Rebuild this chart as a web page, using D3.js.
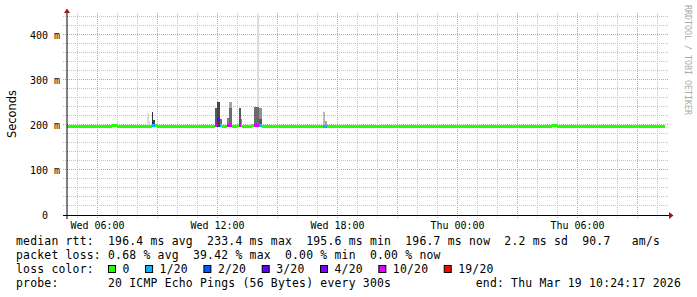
<!DOCTYPE html>
<html lang="en">
<head>
<meta charset="utf-8">
<title>median rtt</title>
<script src="https://cdn.jsdelivr.net/npm/d3@7/dist/d3.min.js"></script>
<style>
  body { margin: 0; background: #fff; }
  svg text { font-family: "DejaVu Sans Mono", monospace; fill: #000; }
  .grid .tick line { stroke-dasharray: 1,1; shape-rendering: crispEdges; }
  .grid.minor .tick line { stroke: #c4c4c4; }
  .grid.major .tick line { stroke: #ee8e8e; }
  .ticks text { font-family: "DejaVu Sans Mono", monospace; font-size: 10px; white-space: pre; }
  .unit { font-family: "DejaVu Sans", sans-serif; font-size: 11.4px; }
  .legend text { font-size: 11.4px; letter-spacing: 0.22px; white-space: pre; }
  .credit { font-size: 8.3px; fill: #aaa; }
  .data rect { shape-rendering: crispEdges; }
</style>
</head>
<body>
<script>
const parseTime = d3.timeParse("%Y-%m-%d %H:%M");

// time window of the graph and the last update
const startTime = "2026-03-18 04:30";
const endTime = "2026-03-19 10:30";
const lastUpdate = "2026-03-19 10:24";
const stepMinutes = 15;

// median rtt (ms), one value per 15 minutes from Wed 04:30
const medianRtt = [
  196.9, 196.2, 196.0, 196.4, 197.1, 196.8, 195.9, 196.3,
  196.6, 197.2, 196.1, 195.8, 196.4, 196.9, 196.3, 196.0,
  196.7, 197.3, 196.2, 195.9, 196.5, 196.1, 196.8, 196.4,
  196.0, 196.6, 197.0, 196.3, 195.8, 196.9, 197.6, 197.0,
  197.2, 196.8, 197.5, 196.5, 197.1, 197.4, 197.8, 196.9,
  196.2, 195.7, 196.3, 196.0, 196.6, 196.2, 195.9, 196.4,
  196.1, 196.7, 197.0, 196.3, 196.0, 196.5, 195.8, 196.2,
  196.6, 196.0, 195.7, 196.3, 196.9, 196.4, 196.1, 196.6,
  196.3, 195.9, 195.6, 195.8, 196.2, 196.0, 196.7, 196.3,
  196.5, 196.1, 196.4, 196.8, 195.8, 195.7, 196.0, 196.6,
  196.2, 196.9, 196.3, 195.9, 196.5, 196.1, 196.7, 196.4,
  196.0, 196.6, 196.2, 196.8, 196.3, 196.5, 196.0, 196.4,
  196.7, 198.0, 196.5, 196.1, 196.6, 196.9, 196.2, 196.0,
  196.4, 196.8, 196.1, 196.5, 197.0, 196.3, 195.9, 196.6,
  196.2, 196.7, 196.4, 196.0, 196.5, 196.9, 196.3, 196.7
];

// periods with packet loss: from, to, lost pings of 20, median rtt (ms)
const lossEvents = [
  ["2026-03-18 08:45", "2026-03-18 08:54", 1, 197.5],
  ["2026-03-18 11:54", "2026-03-18 12:00", 10, 197.5],
  ["2026-03-18 12:00", "2026-03-18 12:09", 3, 212.0],
  ["2026-03-18 12:09", "2026-03-18 12:13", 1, 197.8],
  ["2026-03-18 12:30", "2026-03-18 12:45", 10, 197.4],
  ["2026-03-18 13:07", "2026-03-18 13:12", 10, 197.6],
  ["2026-03-18 13:52", "2026-03-18 14:07", 10, 197.2],
  ["2026-03-18 14:07", "2026-03-18 14:15", 1, 197.5],
  ["2026-03-18 17:18", "2026-03-18 17:30", 1, 197.0]
];

// smoke: from, to, [rtt (ms), number of pings reaching it], highest first
const smokeColumns = [
  ["2026-03-18 08:30", "2026-03-18 08:35", [[227, 1]]],
  ["2026-03-18 08:35", "2026-03-18 08:39", [[209, 1]]],
  ["2026-03-18 08:45", "2026-03-18 08:48", [[229, 10]]],
  ["2026-03-18 08:48", "2026-03-18 08:54", [[211, 9]]],
  ["2026-03-18 11:54", "2026-03-18 12:00", [[238, 8]]],
  ["2026-03-18 12:00", "2026-03-18 12:09", [[252, 9]]],
  ["2026-03-18 12:09", "2026-03-18 12:16", [[214, 7]]],
  ["2026-03-18 12:30", "2026-03-18 12:36", [[216, 6]]],
  ["2026-03-18 12:36", "2026-03-18 12:45", [[252, 4], [238, 3]]],
  ["2026-03-18 13:07", "2026-03-18 13:12", [[238, 8]]],
  ["2026-03-18 13:12", "2026-03-18 13:15", [[213, 5]]],
  ["2026-03-18 13:52", "2026-03-18 14:00", [[240, 7]]],
  ["2026-03-18 14:00", "2026-03-18 14:07", [[444, 1], [240, 6]]],
  ["2026-03-18 14:07", "2026-03-18 14:15", [[238, 5], [213, 3]]],
  ["2026-03-18 17:18", "2026-03-18 17:25", [[229, 3]]],
  ["2026-03-18 17:25", "2026-03-18 17:30", [[209, 4]]],
  ["2026-03-18 20:00", "2026-03-18 20:04", [[211, 1]]]
];

const yLabelValues = [0, 100, 200, 300, 400];
const lossLabels = ["0", "1/20", "2/20", "3/20", "4/20", "10/20", "19/20"];
const lossSteps = [1, 2, 3, 4, 10, 19];
const lossColors = ["#26ff00", "#00b8ff", "#0059ff", "#5e00ff", "#7e00ff", "#dd00ff", "#ff0000"];

const legendLines = [
  "median rtt:  196.4 ms avg  233.4 ms max  195.6 ms min  196.7 ms now  2.2 ms sd  90.7   am/s",
  "packet loss: 0.68 % avg  39.42 % max  0.00 % min  0.00 % now",
  "loss color:",
  "probe:       20 ICMP Echo Pings (56 Bytes) every 300s"
];
const endLabel = "end: Thu Mar 19 10:24:17 2026";

const width = 697, height = 297;
const plotLeft = 67, plotRight = 667, plotBottom = 215, plotTop = 15;

const svg = d3.select("body").append("svg")
    .attr("width", width)
    .attr("height", height);

svg.append("rect").attr("width", width).attr("height", height).attr("fill", "#fff");

const x = d3.scaleTime()
    .domain([parseTime(startTime), parseTime(endTime)])
    .range([plotLeft, plotRight]);
const y = d3.scaleLinear()
    .domain([0, 400])
    .range([plotBottom, plotBottom - 180]);
const yTop = y.invert(plotTop);

const lossColor = d3.scaleThreshold().domain(lossSteps).range(lossColors);

// grid
const hours = d3.timeHour.every(1).range(x.domain()[0], x.domain()[1]);
const isMajorHour = d => d.getHours() % 3 === 0;
const gridLen = plotBottom + 3 - 13;
svg.append("g")
    .attr("class", "grid minor")
    .attr("transform", `translate(0,${plotBottom + 3})`)
    .call(d3.axisBottom(x).tickValues(hours.filter(d => !isMajorHour(d)))
        .tickSize(-gridLen).tickFormat(""))
    .call(g => g.select(".domain").remove());
svg.append("g")
    .attr("class", "grid major")
    .attr("transform", `translate(0,${plotBottom + 3})`)
    .call(d3.axisBottom(x).tickValues(hours.filter(isMajorHour))
        .tickSize(-gridLen).tickFormat(""))
    .call(g => g.select(".domain").remove());

const yMinor = d3.range(20, yTop, 20).filter(v => v % 100 !== 0);
const hGridLen = plotRight + 1 - plotLeft + 4;
svg.append("g")
    .attr("class", "grid minor")
    .attr("transform", `translate(${plotLeft - 4},-1)`)
    .call(d3.axisLeft(y).tickValues(yMinor).tickSize(-hGridLen).tickFormat(""))
    .call(g => g.select(".domain").remove());
svg.append("g")
    .attr("class", "grid major")
    .attr("transform", `translate(${plotLeft - 4},-1)`)
    .call(d3.axisLeft(y).tickValues(yLabelValues.filter(v => v > 0)).tickSize(-hGridLen).tickFormat(""))
    .call(g => g.select(".domain").remove());

// smoke
const data = svg.append("g").attr("class", "data");
const shade = rank => {
  const g = Math.round(190 / 10 * (10 - Math.min(rank, 10)) + 50);
  return d3.rgb(g, g, g).toString();
};
smokeColumns.forEach(([from, to, pings]) => {
  const x0 = x(parseTime(from)), x1 = x(parseTime(to));
  let rank = 0;
  pings.forEach(([rtt, count]) => {
    rank += count;
    data.append("rect")
        .attr("x", x0)
        .attr("width", x1 - x0)
        .attr("y", y(rtt))
        .attr("height", y(195) - y(rtt))
        .attr("fill", shade(rank));
  });
});

// median, coloured by packet loss
const t0 = parseTime(startTime);
const tLast = parseTime(lastUpdate);
let segs = medianRtt.map((v, i) => ({
  from: d3.timeMinute.offset(t0, i * stepMinutes),
  to: d3.min([d3.timeMinute.offset(t0, (i + 1) * stepMinutes), tLast]),
  v, lost: 0
}));
lossEvents.forEach(([f, t, lost, v]) => {
  const a = parseTime(f), b = parseTime(t);
  segs = segs.flatMap(s => {
    if (s.to <= a || s.from >= b) return [s];
    const out = [];
    if (s.from < a) out.push({ ...s, to: a });
    if (s.to > b) out.push({ ...s, from: b });
    return out;
  });
  segs.push({ from: a, to: b, v, lost });
});
data.selectAll("rect.median")
  .data(segs)
  .join("rect")
    .attr("class", "median")
    .attr("x", d => x(d.from))
    .attr("width", d => x(d.to) - x(d.from))
    .attr("y", d => y(d.v) - 1.8)
    .attr("height", 3)
    .attr("fill", d => lossColor(d.lost));

// axes lines + arrows
svg.append("line")
    .attr("x1", plotLeft).attr("x2", plotLeft)
    .attr("y1", 13).attr("y2", plotBottom + 4)
    .attr("stroke", "#000");
svg.append("line")
    .attr("x1", plotLeft - 4).attr("x2", plotRight + 2)
    .attr("y1", plotBottom + 0.5).attr("y2", plotBottom + 0.5)
    .attr("stroke", "#000");
svg.append("path")
    .attr("d", `M${plotLeft - 3},13 L${plotLeft + 3},13 L${plotLeft},8.5 Z`)
    .attr("fill", "#a31515");
svg.append("path")
    .attr("d", `M${plotRight + 2},212 L${plotRight + 2},219 L${plotRight + 6.5},215.5 Z`)
    .attr("fill", "#a31515");

// tick labels
svg.append("g")
    .attr("class", "ticks")
    .attr("transform", `translate(0,${plotBottom})`)
    .call(d3.axisBottom(x).ticks(d3.timeHour.every(6))
        .tickSize(0).tickPadding(6.5).tickFormat(d3.timeFormat("%a %H:%M")))
    .call(g => g.select(".domain").remove())
    .call(g => g.selectAll("text").attr("fill", "#000"));

svg.append("g")
    .attr("class", "ticks")
    .attr("transform", `translate(${plotLeft - 7},0)`)
    .call(d3.axisLeft(y).tickValues(yLabelValues)
        .tickSize(0).tickPadding(0).tickFormat(v => v === 0 ? "0  " : `${v} m`))
    .call(g => g.select(".domain").remove())
    .call(g => g.selectAll("text").attr("fill", "#000"));

svg.append("text")
    .attr("class", "unit")
    .attr("transform", `translate(15.5,${(plotBottom + plotTop) / 2 - 1}) rotate(-90)`)
    .attr("text-anchor", "middle")
    .text("Seconds");

svg.append("text")
    .attr("class", "credit")
    .attr("transform", "translate(685,5) rotate(90)")
    .text("RRDTOOL / TOBI OETIKER");

// legend
const legend = svg.append("g").attr("class", "legend");
const legendText = (lx, ly, s) => legend.append("text")
    .attr("x", lx)
    .attr("y", ly)
    .attr("xml:space", "preserve")
    .style("white-space", "pre")
    .text(s);

legendLines.forEach((line, i) => legendText(16, 245 + i * 14, line));
legendText(681, 245 + 3 * 14, endLabel).attr("text-anchor", "end");

let lx = 108;
lossLabels.forEach((label, i) => {
  legend.append("rect")
      .attr("x", lx + 0.5).attr("y", 265.5)
      .attr("width", 7).attr("height", 7)
      .attr("fill", lossColors[i])
      .attr("stroke", "#000");
  const t = legendText(lx + 14.5, 273, label);
  lx += 14.5 + t.node().getComputedTextLength() + 15.5;
});
</script>
</body>
</html>
